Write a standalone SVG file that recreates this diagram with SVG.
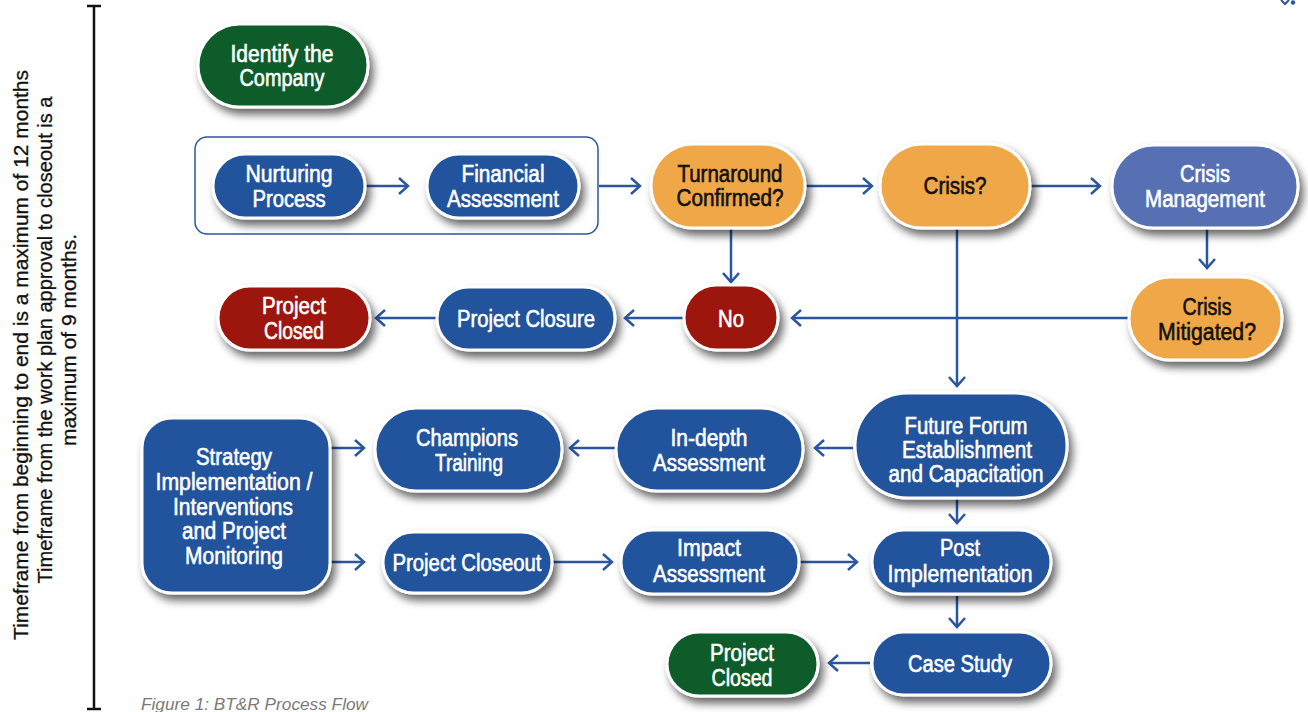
<svg xmlns="http://www.w3.org/2000/svg" width="1308" height="712" viewBox="0 0 1308 712">
  <defs>
    <filter id="sh" x="-20%" y="-20%" width="150%" height="160%">
      <feDropShadow dx="4" dy="6" stdDeviation="4" flood-color="#000" flood-opacity="0.6"/>
    </filter>
    <marker id="ah" markerUnits="userSpaceOnUse" viewBox="-12 -10 14 20" refX="0" refY="0" markerWidth="14" markerHeight="20" orient="auto">
      <path d="M-9,-8 L0,0 L-9,8" fill="none" stroke="#2a56a0" stroke-width="2.5"/>
    </marker>
    <style>
      .pill{stroke:#fff;stroke-width:3;filter:url(#sh)}
      .blue{fill:#22539d}
      .green{fill:#0e5c2b}
      .red{fill:#9c1407}
      .orange{fill:#f0a747}
      .violet{fill:#5670b3}
      .t{font-family:'Liberation Sans Narrow','Liberation Sans',Arial,sans-serif;font-size:23.5px;fill:#fff;stroke:#fff;stroke-width:0.6px;text-anchor:middle}
      .t.dark{fill:#111;stroke:#111}
      .conn{stroke:#2a56a0;stroke-width:2.5;fill:none;marker-end:url(#ah)}
      .side{font-family:'Liberation Sans Narrow','Liberation Sans',Arial,sans-serif;font-size:21px;fill:#111;stroke:#111;stroke-width:0.3px;text-anchor:middle}
    </style>
  </defs>
  <rect width="1308" height="712" fill="#fff"/>

  <!-- timeline bracket and side notes -->
  <g id="timeline" stroke="#111" stroke-width="2.5">
    <line x1="94" y1="6" x2="94" y2="709"/>
    <line x1="87" y1="6" x2="101" y2="6"/>
    <line x1="87" y1="709" x2="101" y2="709"/>
  </g>
  <g id="timeframe-notes">
    <text class="side" transform="translate(28,355) rotate(-90)" textLength="570" lengthAdjust="spacingAndGlyphs">Timeframe from beginning to end is a maximum of 12 months</text>
    <text class="side" transform="translate(52,340) rotate(-90)" textLength="487" lengthAdjust="spacingAndGlyphs">Timeframe from the work plan approval to closeout is a</text>
    <text class="side" transform="translate(76,340) rotate(-90)" textLength="212" lengthAdjust="spacingAndGlyphs">maximum of 9 months.</text>
  </g>

  <!-- grouping frame -->
  <rect id="prep-group" x="195" y="137" width="403" height="97" rx="12" fill="none" stroke="#2a56a0" stroke-width="1.5"/>

  <!-- connectors -->
  <g id="connectors">
    <line class="conn" x1="365" y1="186" x2="408" y2="186"/>
    <line class="conn" x1="599" y1="186" x2="640" y2="186"/>
    <line class="conn" x1="806" y1="186" x2="872" y2="186"/>
    <line class="conn" x1="1031" y1="186" x2="1100" y2="186"/>
    <line class="conn" x1="731" y1="229" x2="731" y2="282"/>
    <line class="conn" x1="1207" y1="229" x2="1207" y2="268"/>
    <line class="conn" x1="1128" y1="318" x2="792" y2="318"/>
    <line class="conn" x1="683" y1="318" x2="625" y2="318"/>
    <line class="conn" x1="436" y1="318" x2="376" y2="318"/>
    <line class="conn" x1="957" y1="229" x2="957" y2="386"/>
    <line class="conn" x1="853" y1="448" x2="815" y2="448"/>
    <line class="conn" x1="615" y1="448" x2="570" y2="448"/>
    <line class="conn" x1="331" y1="448" x2="364" y2="448"/>
    <line class="conn" x1="331" y1="562" x2="364" y2="562"/>
    <line class="conn" x1="553" y1="562" x2="612" y2="562"/>
    <line class="conn" x1="800" y1="562" x2="857" y2="562"/>
    <line class="conn" x1="957" y1="499" x2="957" y2="523"/>
    <line class="conn" x1="957" y1="596" x2="957" y2="627"/>
    <line class="conn" x1="870" y1="663" x2="829" y2="663"/>
  </g>

  <!-- nodes -->
  <g id="identify">
    <rect class="pill green" x="198" y="24" width="170" height="83" rx="41.5"/>
    <text class="t" x="282" y="62" textLength="103" lengthAdjust="spacingAndGlyphs">Identify the</text>
    <text class="t" x="282" y="86" textLength="85" lengthAdjust="spacingAndGlyphs">Company</text>
  </g>
  <g id="nurturing">
    <rect class="pill blue" x="213" y="154" width="152" height="64" rx="32"/>
    <text class="t" x="289" y="182" textLength="87" lengthAdjust="spacingAndGlyphs">Nurturing</text>
    <text class="t" x="289" y="207" textLength="73" lengthAdjust="spacingAndGlyphs">Process</text>
  </g>
  <g id="financial">
    <rect class="pill blue" x="427" y="154" width="152" height="64" rx="32"/>
    <text class="t" x="503" y="182" textLength="83" lengthAdjust="spacingAndGlyphs">Financial</text>
    <text class="t" x="503" y="207" textLength="112" lengthAdjust="spacingAndGlyphs">Assessment</text>
  </g>
  <g id="turnaround">
    <rect class="pill orange" x="651" y="144" width="154" height="84" rx="42"/>
    <text class="t dark" x="730" y="182" textLength="105" lengthAdjust="spacingAndGlyphs">Turnaround</text>
    <text class="t dark" x="730" y="206" textLength="107" lengthAdjust="spacingAndGlyphs">Confirmed?</text>
  </g>
  <g id="crisis">
    <rect class="pill orange" x="880" y="144" width="150" height="84" rx="42"/>
    <text class="t dark" x="955" y="194" textLength="63" lengthAdjust="spacingAndGlyphs">Crisis?</text>
  </g>
  <g id="crisis-management">
    <rect class="pill violet" x="1112" y="145" width="186" height="83" rx="41.5"/>
    <text class="t" x="1205" y="182" textLength="50" lengthAdjust="spacingAndGlyphs">Crisis</text>
    <text class="t" x="1205" y="207" textLength="120" lengthAdjust="spacingAndGlyphs">Management</text>
  </g>
  <g id="crisis-mitigated">
    <rect class="pill orange" x="1129" y="277" width="153" height="83" rx="41.5"/>
    <text class="t dark" x="1207" y="315" textLength="49" lengthAdjust="spacingAndGlyphs">Crisis</text>
    <text class="t dark" x="1207" y="340" textLength="98" lengthAdjust="spacingAndGlyphs">Mitigated?</text>
  </g>
  <g id="no">
    <rect class="pill red" x="684" y="285" width="94" height="65" rx="32.5"/>
    <text class="t" x="731" y="327" textLength="26" lengthAdjust="spacingAndGlyphs">No</text>
  </g>
  <g id="project-closure">
    <rect class="pill blue" x="437" y="287" width="178" height="63" rx="31.5"/>
    <text class="t" x="526" y="327" textLength="138" lengthAdjust="spacingAndGlyphs">Project Closure</text>
  </g>
  <g id="project-closed-red">
    <rect class="pill red" x="218" y="286" width="152" height="64" rx="32"/>
    <text class="t" x="294" y="314" textLength="64" lengthAdjust="spacingAndGlyphs">Project</text>
    <text class="t" x="294" y="339" textLength="60" lengthAdjust="spacingAndGlyphs">Closed</text>
  </g>
  <g id="future-forum">
    <rect class="pill blue" x="855" y="393" width="212" height="105" rx="52.5"/>
    <text class="t" x="966" y="434" textLength="123" lengthAdjust="spacingAndGlyphs">Future Forum</text>
    <text class="t" x="967" y="458" textLength="130" lengthAdjust="spacingAndGlyphs">Establishment</text>
    <text class="t" x="966" y="482" textLength="155" lengthAdjust="spacingAndGlyphs">and Capacitation</text>
  </g>
  <g id="in-depth">
    <rect class="pill blue" x="616" y="408" width="187" height="83" rx="41.5"/>
    <text class="t" x="709" y="446" textLength="77" lengthAdjust="spacingAndGlyphs">In-depth</text>
    <text class="t" x="709" y="471" textLength="112" lengthAdjust="spacingAndGlyphs">Assessment</text>
  </g>
  <g id="champions">
    <rect class="pill blue" x="375" y="408" width="187" height="83" rx="41.5"/>
    <text class="t" x="467" y="446" textLength="102" lengthAdjust="spacingAndGlyphs">Champions</text>
    <text class="t" x="469" y="471" textLength="68" lengthAdjust="spacingAndGlyphs">Training</text>
  </g>
  <g id="strategy">
    <rect class="pill blue" x="142" y="418" width="188" height="175" rx="30"/>
    <text class="t" x="234" y="465" textLength="76" lengthAdjust="spacingAndGlyphs">Strategy</text>
    <text class="t" x="234" y="490" textLength="157" lengthAdjust="spacingAndGlyphs">Implementation /</text>
    <text class="t" x="233" y="515" textLength="120" lengthAdjust="spacingAndGlyphs">Interventions</text>
    <text class="t" x="234" y="539" textLength="104" lengthAdjust="spacingAndGlyphs">and Project</text>
    <text class="t" x="234" y="564" textLength="98" lengthAdjust="spacingAndGlyphs">Monitoring</text>
  </g>
  <g id="project-closeout">
    <rect class="pill blue" x="383" y="532" width="169" height="61" rx="30.5"/>
    <text class="t" x="467" y="571" textLength="149" lengthAdjust="spacingAndGlyphs">Project Closeout</text>
  </g>
  <g id="impact">
    <rect class="pill blue" x="621" y="530" width="178" height="64" rx="32"/>
    <text class="t" x="709" y="556" textLength="64" lengthAdjust="spacingAndGlyphs">Impact</text>
    <text class="t" x="709" y="582" textLength="112" lengthAdjust="spacingAndGlyphs">Assessment</text>
  </g>
  <g id="post-implementation">
    <rect class="pill blue" x="872" y="530" width="179" height="64" rx="32"/>
    <text class="t" x="960" y="556" textLength="40" lengthAdjust="spacingAndGlyphs">Post</text>
    <text class="t" x="960" y="582" textLength="145" lengthAdjust="spacingAndGlyphs">Implementation</text>
  </g>
  <g id="case-study">
    <rect class="pill blue" x="872" y="632" width="179" height="63" rx="31.5"/>
    <text class="t" x="960" y="672" textLength="104" lengthAdjust="spacingAndGlyphs">Case Study</text>
  </g>
  <g id="project-closed-green">
    <rect class="pill green" x="667" y="632" width="151" height="64" rx="32"/>
    <text class="t" x="742" y="661" textLength="64" lengthAdjust="spacingAndGlyphs">Project</text>
    <text class="t" x="742" y="686" textLength="61" lengthAdjust="spacingAndGlyphs">Closed</text>
  </g>

  <!-- corner mark -->
  <g id="corner-mark">
    <path d="M1281,0 L1285,4 L1289,0" fill="none" stroke="#2a56a0" stroke-width="2"/>
    <circle cx="1293" cy="2.5" r="2.2" fill="#2a56a0"/>
  </g>

  <!-- caption -->
  <text id="caption" x="141" y="710" font-family="'Liberation Sans Narrow','Liberation Sans',Arial,sans-serif" font-size="17" font-style="italic" fill="#7a7a7a" textLength="227" lengthAdjust="spacingAndGlyphs">Figure 1: BT&amp;R Process Flow</text>
</svg>
